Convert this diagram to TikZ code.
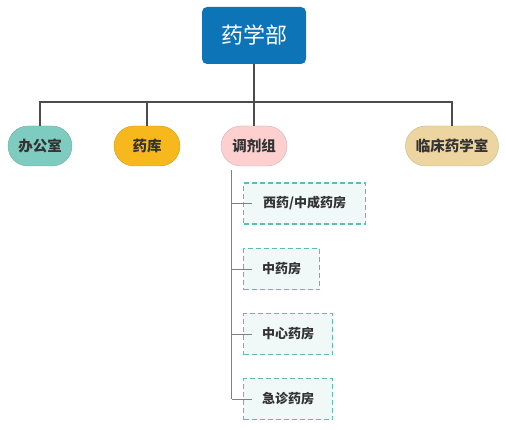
\documentclass[tikz,border=0pt]{standalone}
\usepackage{fontspec}
\usepackage{xcolor}
\usetikzlibrary{positioning,calc}
\newfontfamily\cjk{Noto Sans CJK SC}
\definecolor{azul}{HTML}{0E74B8}
\definecolor{verde}{HTML}{7ECBBF}
\definecolor{ambar}{HTML}{F6B81C}
\definecolor{rosa}{HTML}{FDCFCF}
\definecolor{arena}{HTML}{ECD5A0}
\definecolor{turquesa}{HTML}{5BBFB0}
\definecolor{texto}{HTML}{333333}

\begin{document}
\begin{tikzpicture}[
      x=1pt, y=-1pt,
      font=\cjk,
      jefe/.style={fill=azul, rounded corners=5pt, text=white, font=\cjk\fontsize{22}{26}\selectfont,
                   minimum width=104pt, minimum height=57pt, inner sep=0pt},
      seccion/.style={rounded corners=20pt, minimum height=40pt, inner sep=0pt, text=texto,
                      font=\cjk\bfseries\fontsize{14.5}{16}\selectfont},
      farmacia/.style={draw=turquesa, dash pattern=on 5pt off 3pt, line width=1.3pt, fill=turquesa!9,
                       minimum height=41pt, inner sep=0pt, anchor=west, text=texto,
                       font=\cjk\bfseries\fontsize{13}{15}\selectfont},
      linea/.style={draw=black!70, line width=1.4pt},
      rama/.style={draw=black!50, line width=1pt}]
    \useasboundingbox (0,0) rectangle (505,430);
    % nivel superior
    \node[jefe] (dep) at (254,35.5) {药学部};
    % secciones
    \node[seccion, fill=verde, draw=verde!85!black, line width=0.4pt, minimum width=64pt] (ofi) at (40,146) {办公室};
    \node[seccion, fill=ambar, draw=ambar!85!black, line width=0.4pt, minimum width=66pt] (alm) at (147,146) {药库};
    \node[seccion, fill=rosa, draw=rosa!85!black, line width=0.4pt, minimum width=66pt] (dis) at (254,146) {调剂组};
    \node[seccion, fill=arena, draw=arena!85!black, line width=0.4pt, minimum width=93pt] (cli) at (452,146) {临床药学室};
    % farmacias
    \node[farmacia, minimum width=122pt] (f1) at (243,203.5) {西药/中成药房};
    \node[farmacia, minimum width=76pt] (f2) at (243,269) {中药房};
    \node[farmacia, minimum width=89pt] (f3) at (243,334) {中心药房};
    \node[farmacia, minimum width=89pt] (f4) at (243,399) {急诊药房};
    % conectores
    \coordinate (bus) at (254,102);
    \draw[linea] (dep.south) -- (bus);
    \draw[linea] (ofi.north) |- (bus) -| (cli.north);
    \draw[linea] (alm.north) -- (alm.north |- bus);
    \draw[linea] (dis.north) -- (dis.north |- bus);
    \coordinate (tronco) at ($(dis.south west)+(11,4)$);
    \draw[rama] (tronco) -- (tronco |- f4.west);
    \foreach \f in {f1,f2,f3,f4}
      \draw[rama] (tronco |- \f.west) -- ([xshift=9pt]\f.west);
\end{tikzpicture}
\end{document}
